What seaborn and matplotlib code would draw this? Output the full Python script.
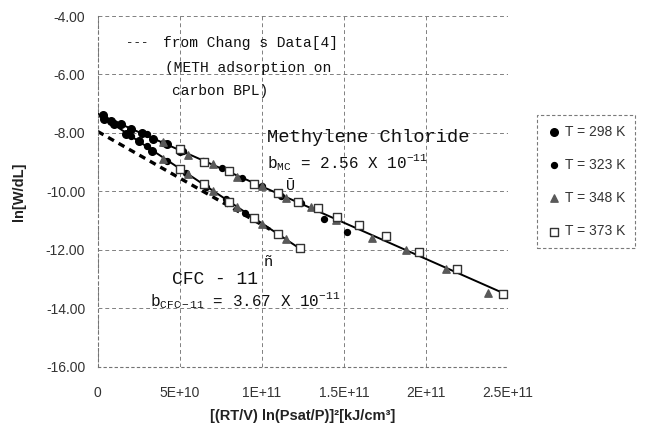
import numpy as np
import pandas as pd
import matplotlib
matplotlib.use("Agg")
import matplotlib.pyplot as plt
import seaborn as sns

# ---- data (x in units of 1e10) ----
t298_x = [0.3, 0.8, 1.4, 2.0, 2.7, 3.4, 4.2, 5.0, 0.4, 1.0, 1.7, 2.5, 3.3]
t298_y = [-7.40, -7.58, -7.68, -7.88, -8.00, -8.22, -8.37, -8.62,
          -7.52, -7.70, -8.02, -8.27, -8.62]

t323_x = [2.0, 3.0, 4.0, 5.2, 6.4, 7.6, 8.8, 10.0, 11.2, 12.4, 13.8, 15.2,
          2.0, 3.0, 4.2, 5.4, 6.6, 7.8, 9.0]
t323_y = [-7.88, -8.05, -8.36, -8.62, -8.97, -9.20, -9.55, -9.80, -10.16, -10.40, -10.95, -11.38,
          -8.12, -8.45, -8.95, -9.36, -9.86, -10.25, -10.75]

t348_x = [4.0, 5.5, 7.0, 8.5, 10.0, 11.5, 13.0, 14.5, 16.7, 18.8, 21.2, 23.8,
          4.0, 5.5, 7.0, 8.5, 10.0, 11.5]
t348_y = [-8.30, -8.74, -9.06, -9.50, -9.80, -10.24, -10.55, -10.98, -11.58, -12.02, -12.67, -13.48,
          -8.88, -9.40, -10.00, -10.52, -11.12, -11.64]

t373_x = [5.0, 6.5, 8.0, 9.5, 11.0, 12.2, 13.4, 14.6, 15.9, 17.6, 19.6, 21.9, 24.7,
          5.0, 6.5, 8.0, 9.5, 11.0, 12.3]
t373_y = [-8.56, -8.98, -9.30, -9.74, -10.05, -10.35, -10.58, -10.89, -11.16, -11.54, -12.06, -12.64, -13.50,
          -9.25, -9.76, -10.38, -10.90, -11.45, -11.92]

# fitted lines and Chang's data line
mc_fit_x = [0.0, 25.0]
mc_fit_y = [-7.35, -13.55]
cfc_fit_x = [0.0, 12.3]
cfc_fit_y = [-7.35, -11.95]
chang_x = [0.0, 10.5]
chang_y = [-7.95, -11.30]

xticks = [0, 5, 10, 15, 20, 25]
xticklabels = ["0", "5E+10", "1E+11", "1.5E+11", "2E+11", "2.5E+11"]
yticks = [-16, -14, -12, -10, -8, -6, -4]

series = [
    ("T = 298 K", t298_x, t298_y, "o", "black", "black", 30),
    ("T = 323 K", t323_x, t323_y, "o", "black", "black", 18),
    ("T = 348 K", t348_x, t348_y, "^", "0.35", "0.35", 28),
    ("T = 373 K", t373_x, t373_y, "s", "white", "0.2", 26),
]

sns.set_style("white")
plt.rcParams["font.family"] = ["Liberation Sans", "DejaVu Sans"]
plt.rcParams["mathtext.fontset"] = "custom"
plt.rcParams["mathtext.rm"] = "Liberation Mono"
plt.rcParams["mathtext.it"] = "Liberation Mono"

fig = plt.figure(figsize=(6.47, 4.33), dpi=100)
ax = fig.add_axes([0.151, 0.153, 0.634, 0.810])

# lines
sns.lineplot(x=mc_fit_x, y=mc_fit_y, color="black", lw=1.4, ax=ax)
sns.lineplot(x=cfc_fit_x, y=cfc_fit_y, color="black", lw=1.4, ax=ax)
sns.lineplot(x=chang_x, y=chang_y, color="black", lw=2.4, ax=ax,
             linestyle=(0, (2.0, 1.6)))

for label, xs, ys, mk, fc, ec, s in series:
    df = pd.DataFrame({"x": xs, "y": ys})
    sns.scatterplot(data=df, x="x", y="y", marker=mk, s=s, color=fc,
                    edgecolor=ec, linewidth=1.0, ax=ax, label=label, zorder=3)

ax.set_xlim(0, 25)
ax.set_ylim(-16, -4)
ax.set_xticks(xticks)
ax.set_xticklabels(xticklabels)
ax.set_yticks(yticks)
ax.set_yticklabels([f"{v:.2f}" for v in yticks])
ax.tick_params(labelsize=10, colors="#333333", length=0)
ax.tick_params(axis="x", pad=14)
ax.tick_params(axis="y", pad=9)
ax.grid(True, color="0.5", lw=0.7, linestyle=(0, (4, 3)))
for sp in ["top", "right"]:
    ax.spines[sp].set_visible(False)
for sp in ["left", "bottom"]:
    ax.spines[sp].set_color("0.45")
    ax.spines[sp].set_linewidth(0.8)
    ax.spines[sp].set_linestyle((0, (2, 3)))
ax.set_xlabel("[(RT/V) ln(Psat/P)]²[kJ/cm³]", fontsize=10.5, fontweight="bold",
              color="#222222", labelpad=6)
ax.set_ylabel("ln[W/dL]", fontsize=10.5, fontweight="bold", color="#222222",
              labelpad=14)

leg = ax.legend(loc="upper left", bbox_to_anchor=(537 / 647, 1 - 115 / 433),
                bbox_transform=fig.transFigure, fontsize=10, labelspacing=1.38,
                handletextpad=0.3, borderpad=0.7, borderaxespad=0,
                frameon=True, fancybox=False, handlelength=1.0)
leg.get_frame().set_edgecolor("0.35")
leg.get_frame().set_linewidth(0.8)
leg.get_frame().set_linestyle((0, (3, 2)))
for t in leg.get_texts():
    t.set_color("#333333")

mono = "Liberation Mono"


def ftext(px, py, s, size, **kw):
    fig.text(px / 647, 1 - py / 433, s, fontsize=size, family=mono,
             va="center", ha="left", color="#111111", **kw)


ftext(126, 43, "---", 9)
ftext(163, 43, "from Chang s Data[4]", 10.5)
ftext(165, 68, "(METH adsorption on", 10.5)
ftext(172, 91, "carbon BPL)", 10.5)
ftext(267, 137, "Methylene Chloride", 13.5)
ftext(267, 163, r"b$_{\mathrm{MC}}$ = 2.56 X 10$^{-11}$", 11.5)
ftext(172, 279, "CFC - 11", 13)
ftext(150, 301, r"b$_{\mathrm{CFC-11}}$ = 3.67 X 10$^{-11}$", 11.5)
ftext(286, 186, "Ū", 11)
ftext(264, 262, "ñ", 11)

fig.savefig("out.png", dpi=100, facecolor="white")
